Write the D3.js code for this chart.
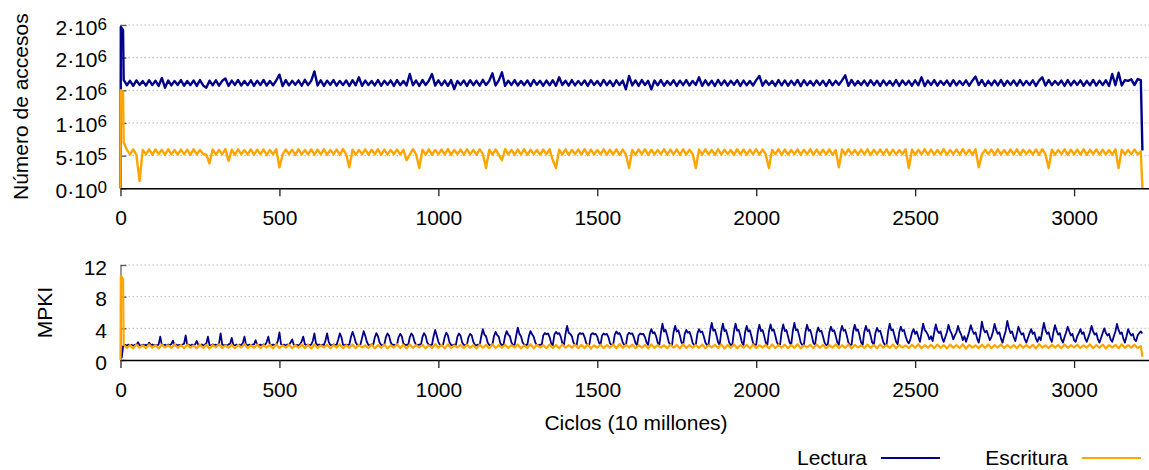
<!DOCTYPE html>
<html>
<head>
<meta charset="utf-8">
<script src="https://cdn.jsdelivr.net/npm/d3@7"></script>
<style>
  html, body { margin: 0; padding: 0; background: #fff; }
  svg { display: block; font-family: "Liberation Sans", Arial, Helvetica, sans-serif; }
</style>
</head>
<body>
<svg id="chart" width="1149" height="470"></svg>
<script>
// ---------------------------------------------------------------
// Datos (eje x en ciclos / 10 millones)
// ---------------------------------------------------------------
const ciclosInicio = [0, 1, 4, 8];     // primeras muestras, más densas
const CICLO_0 = 10;                    // primera muestra regular
const PASO = 10;                       // paso de las series regulares
const PASO_FINO = 5;                   // paso de la serie MPKI de lectura
const CICLO_FIN = 3215;                // última muestra

// Número de accesos (miles)
const lecturaAccInicio   = [0, 2470, 2450, 2420];
const escrituraAccInicio = [0, 1500, 1490, 1470];
const lecturaAcc = [
  1660,1578,1646,1569,1652,1583,1641,1572,1655,1580,1648,1566,1690,1540,1650,1575,1644,1582,1657,1570,
  1643,1579,1651,1568,1656,1574,1541,1648,1577,1653,1571,1645,1680,1567,1649,1582,1658,1573,1642,1576,
  1654,1569,1647,1581,1659,1572,1643,1578,1650,1740,1565,1656,1576,1645,1584,1652,1570,1660,1579,1646,
  1790,1574,1653,1567,1648,1583,1657,1571,1644,1580,1651,1566,1655,1577,1700,1569,1649,1582,1642,1575,
  1658,1570,1645,1584,1652,1568,1656,1579,1643,1573,1750,1577,1650,1566,1659,1581,1647,1750,1572,1654,
  1576,1649,1569,1657,1520,1644,1583,1651,1567,1655,1578,1646,1571,1660,1580,1642,1760,1574,1653,1775,
  1568,1648,1582,1656,1573,1643,1579,1652,1566,1658,1584,1645,1570,1650,1577,1654,1569,1700,1581,1647,
  1572,1657,1575,1644,1583,1651,1567,1655,1580,1642,1571,1659,1578,1646,1565,1653,1582,1649,1515,1720,
  1574,1652,1568,1658,1581,1645,1515,1650,1576,1656,1570,1643,1583,1654,1567,1648,1579,1657,1573,1644,
  1582,1700,1569,1653,1577,1647,1566,1659,1580,1651,1572,1645,1584,1655,1568,1649,1578,1642,1575,1656,
  1720,1571,1650,1583,1644,1567,1657,1576,1652,1570,1646,1581,1658,1565,1654,1579,1643,1573,1651,1580,
  1648,1566,1656,1577,1645,1584,1653,1730,1569,1659,1575,1642,1582,1650,1571,1655,1578,1647,1568,1652,
  1579,1644,1573,1658,1567,1651,1583,1646,1570,1654,1576,1700,1565,1649,1581,1657,1572,1643,1584,1650,
  1568,1655,1577,1642,1582,1653,1571,1648,1710,1580,1659,1566,1645,1578,1652,1574,1656,1569,1647,1583,
  1651,1570,1657,1576,1644,1581,1653,1567,1649,1700,1573,1658,1579,1643,1585,1650,1568,1656,1575,1646,
  1583,1652,1569,1645,1577,1659,1572,1648,1580,1654,1566,1750,1578,1770,1574,1657,1645,1668,1580,1672,
  1655
];
const escrituraAcc = [
  700,592,518,596,513,110,589,521,597,515,594,524,590,511,598,520,587,516,593,523,
  591,512,599,519,586,525,514,380,595,517,588,522,600,420,592,513,596,520,585,518,
  597,514,590,523,594,510,587,521,598,320,516,593,524,589,512,599,519,586,522,595,
  515,591,520,597,513,588,524,594,511,600,518,320,592,516,587,523,596,514,590,521,
  598,512,593,519,586,525,595,517,589,430,514,599,521,310,591,516,597,513,588,522,
  594,518,600,511,587,524,592,515,598,520,589,513,596,523,310,590,517,595,512,430,
  599,521,588,514,593,519,597,512,590,525,586,516,594,522,598,430,310,591,518,596,
  513,589,523,595,517,599,511,592,520,587,524,596,515,590,518,597,512,593,521,310,
  588,516,594,522,599,513,590,519,586,525,597,514,592,520,595,511,598,517,589,523,
  310,593,515,597,521,588,512,596,518,591,524,586,513,599,520,594,516,590,522,597,
  514,595,519,310,589,523,598,511,593,517,587,525,596,514,591,520,599,512,594,518,
  590,521,597,513,588,320,595,516,599,522,586,515,592,519,597,511,589,524,594,517,
  596,512,591,520,587,525,598,310,594,514,589,521,597,516,592,518,586,523,599,513,
  588,522,595,515,600,519,591,513,596,320,517,589,524,593,511,598,520,587,516,594,
  519,597,514,590,523,586,518,595,512,599,521,310,592,515,588,524,596,513,591,520,
  593,517,598,512,589,525,594,516,590,522,587,514,597,310,592,519,586,523,595,518,
  562
];
const lecturaAccFin = 580;
const escrituraAccFin = 0;

// MPKI
const lecturaMpkiInicio   = [0.2, 0.3, 0.3, 1.7];
const escrituraMpkiInicio = [0, 10.6, 10.5, 10.2];
const lecturaMpki = [   // paso fino (5)
  1.85,1.92,1.80,1.95,1.84,1.90,1.79,1.93,1.87,2.25,1.88,1.81,1.94,1.86,1.91,1.83,2.20,1.89,1.96,1.82,
  1.90,1.84,1.97,2.95,1.92,1.85,1.93,1.80,1.95,1.88,2.02,2.45,1.86,1.94,1.82,1.91,1.87,1.96,2.05,3.10,
  1.88,1.93,1.81,1.95,1.86,1.99,2.40,1.90,1.83,1.96,1.85,1.92,2.08,2.95,1.89,1.84,1.97,1.87,1.93,1.82,
  2.10,3.35,1.95,1.86,1.92,1.81,1.97,2.05,2.80,1.90,1.84,1.96,1.88,1.93,1.85,2.15,2.95,1.91,1.87,1.94,
  1.83,1.95,1.98,2.50,1.92,1.86,1.94,1.82,1.97,1.89,2.30,2.95,1.93,1.85,1.96,1.88,1.91,2.40,3.50,2.00,
  1.87,1.94,1.84,1.96,1.89,2.20,2.60,1.95,1.86,1.92,1.83,1.97,2.35,2.95,2.00,1.88,1.94,1.85,1.95,2.40,
  3.35,2.10,1.89,1.96,1.84,1.93,1.87,2.50,3.35,2.30,1.90,1.85,1.97,1.88,1.94,2.60,3.35,2.90,1.95,1.86,
  1.93,1.88,1.96,2.90,3.55,3.00,2.20,1.90,1.84,1.95,2.80,3.65,3.05,2.30,1.92,1.86,1.97,1.89,2.85,3.40,
  3.00,2.20,1.91,1.85,1.95,2.90,3.35,3.05,2.25,1.89,1.94,1.84,1.96,2.90,3.30,3.00,2.10,1.88,1.93,1.86,
  2.85,3.35,3.10,2.30,1.92,1.85,1.96,1.89,2.90,3.40,3.05,2.20,1.93,1.86,1.95,3.00,3.80,3.10,2.30,1.90,
  1.84,1.96,2.90,3.45,3.10,2.25,1.90,1.85,1.95,1.88,2.95,3.35,3.05,2.20,1.92,1.86,1.97,2.90,3.30,3.10,
  2.30,1.91,1.85,1.95,1.88,3.00,3.90,3.20,3.00,2.20,1.90,1.84,1.96,3.00,3.55,3.15,2.95,2.10,1.89,1.94,
  3.05,3.65,3.20,3.00,2.20,1.88,1.95,3.10,4.10,3.30,3.00,2.25,1.91,1.85,1.96,3.05,3.65,3.25,2.95,2.20,
  1.90,1.86,1.95,1.88,3.10,3.40,3.25,3.35,2.90,2.10,1.89,3.20,3.55,3.30,3.40,2.95,2.15,1.87,3.30,4.30,
  3.45,3.30,3.00,2.20,1.91,1.85,3.15,3.40,3.30,3.35,2.90,2.15,1.88,1.94,3.20,3.40,3.25,3.30,2.95,2.20,
  1.89,3.10,3.35,3.20,3.30,2.90,2.10,1.87,1.93,3.20,3.60,3.30,3.40,2.95,2.20,1.90,1.85,3.15,3.45,3.30,
  3.35,2.90,2.15,1.88,3.10,3.35,3.25,3.30,2.90,2.20,1.91,3.30,3.90,3.40,3.50,3.00,2.20,1.89,3.40,4.60,
  3.60,3.80,3.10,2.25,1.90,1.86,3.50,4.30,3.60,3.75,3.05,2.20,1.92,3.30,3.80,3.45,3.55,3.00,2.15,1.88,
  1.94,3.35,3.90,3.50,3.60,3.00,2.20,1.89,1.93,3.60,4.70,3.70,3.85,3.10,2.25,1.90,3.55,4.60,3.65,3.80,
  3.05,2.20,1.88,1.95,3.60,4.60,3.70,3.80,3.10,2.20,1.91,3.50,4.30,3.60,3.75,3.00,2.15,1.89,1.94,3.55,
  4.45,3.65,3.80,3.05,2.20,1.90,3.60,4.50,3.70,3.85,3.10,2.25,1.88,1.95,3.55,4.50,3.65,3.80,3.00,2.20,
  1.91,3.60,4.70,3.75,3.85,3.10,2.20,1.89,1.94,3.55,4.45,3.70,3.80,3.05,2.15,1.90,3.40,4.10,3.60,3.70,
  3.00,2.20,1.88,1.95,3.50,4.20,3.65,3.75,3.05,2.25,1.91,3.55,4.30,3.70,3.80,3.10,2.20,1.89,1.94,3.60,
  4.45,3.70,3.85,3.10,2.20,1.90,3.55,4.30,3.65,3.80,3.05,2.20,1.92,3.40,4.05,3.60,3.70,3.00,2.25,1.89,
  1.95,3.60,4.60,3.75,3.85,3.10,2.30,2.00,3.50,4.20,3.65,3.80,3.00,2.40,2.10,2.60,3.45,3.90,3.30,3.60,
  2.90,2.30,3.40,4.60,3.80,3.55,3.20,2.60,3.00,2.40,3.50,4.50,3.70,3.40,3.60,2.80,2.30,2.90,3.50,4.45,
  3.70,3.30,2.60,3.10,3.50,4.30,3.60,3.20,2.50,3.00,2.30,2.90,3.60,4.40,3.75,3.30,3.50,2.70,2.20,3.30,
  4.85,3.90,3.50,3.70,3.10,2.50,2.90,3.60,4.55,3.80,3.30,3.50,2.70,2.20,3.00,3.70,4.95,4.00,3.40,3.60,
  2.90,2.40,3.30,4.20,3.60,3.20,3.40,2.60,2.20,2.80,3.40,3.90,3.30,3.50,2.70,2.30,2.90,2.50,3.60,4.70,
  3.80,3.30,3.50,2.70,2.30,3.50,4.40,3.70,3.20,3.40,2.60,2.20,2.90,3.50,4.20,3.60,3.10,3.30,2.50,2.30,
  3.00,3.40,3.90,3.30,3.50,2.70,2.30,2.90,3.50,4.30,3.60,3.20,3.40,2.60,2.20,2.80,3.40,4.00,3.40,3.10,
  3.30,2.60,2.30,3.00,3.60,4.55,3.80,3.30,3.50,2.70,2.20,3.00,3.90,3.40,3.10,3.30,2.60,2.40,3.10,3.40,
  3.60,3.35
];
const escrituraMpki = [
  1.92,1.52,1.88,1.47,1.95,1.56,1.86,1.50,1.97,1.55,1.89,1.46,1.93,1.58,1.87,1.51,1.99,1.54,1.90,1.48,
  1.94,1.57,1.85,1.49,1.96,1.53,1.91,1.45,1.88,1.59,1.98,1.52,1.86,1.55,1.93,1.47,1.90,1.56,2.02,1.50,
  1.87,1.54,1.95,1.48,1.89,1.58,1.92,1.46,1.97,1.53,1.85,1.57,1.94,1.49,1.88,1.55,1.99,1.51,1.91,1.45,
  1.96,1.52,1.86,1.59,1.93,1.47,1.90,1.56,1.98,1.50,1.87,1.54,1.95,1.48,1.92,1.58,1.85,1.53,1.97,1.46,
  1.89,1.55,1.94,1.49,1.87,1.57,1.99,1.51,1.91,1.46,1.96,1.54,1.88,1.59,1.93,1.48,1.86,1.52,2.01,1.56,
  1.92,1.47,1.97,1.53,1.85,1.58,1.90,1.50,1.95,1.55,1.88,1.45,1.94,1.57,1.91,1.49,1.98,1.52,1.87,1.56,
  1.93,1.51,1.89,1.57,1.96,1.46,1.86,1.54,1.99,1.48,1.92,1.58,1.87,1.50,1.95,1.53,1.90,1.47,1.97,1.55,
  1.88,1.56,1.94,1.49,1.91,1.52,1.98,1.45,1.86,1.57,1.93,1.51,1.89,1.55,1.96,1.48,2.03,1.54,1.90,1.59,
  1.95,1.50,1.87,1.55,1.92,1.47,1.97,1.53,1.89,1.58,1.85,1.49,1.94,1.56,1.91,1.46,1.99,1.52,1.88,1.57,
  1.90,1.54,1.96,1.48,1.86,1.59,1.93,1.51,1.98,1.45,1.89,1.55,1.95,1.50,1.87,1.57,1.92,1.47,1.97,1.53,
  1.86,1.58,1.91,1.46,1.97,1.52,1.88,1.56,1.94,1.49,1.90,1.54,1.99,1.47,1.85,1.59,1.93,1.51,1.96,1.55,
  1.92,1.48,1.89,1.57,1.95,1.50,1.87,1.53,1.98,1.46,1.91,1.58,1.86,1.52,1.94,1.55,1.90,1.49,1.97,1.56,
  1.88,1.53,1.96,1.47,1.90,1.59,1.85,1.51,1.93,1.55,1.99,1.48,1.87,1.57,1.92,1.50,1.95,1.54,1.89,1.46,
  1.94,1.56,1.87,1.52,1.98,1.45,1.91,1.58,1.86,1.50,1.93,1.54,1.97,1.49,1.88,1.57,1.95,1.51,1.90,1.55,
  1.89,1.47,1.95,1.55,1.87,1.53,1.92,1.46,1.99,1.58,1.86,1.51,1.94,1.56,1.90,1.48,1.96,1.54,1.88,1.59,
  1.93,1.52,1.86,1.57,1.97,1.49,1.90,1.55,1.95,1.46,1.88,1.58,1.92,1.50,1.98,1.53,1.87,1.56,1.94,1.51,
  1.76
];
const escrituraMpkiFin = 0.4;

// Ejes y etiquetas
const xTicks = [0, 500, 1000, 1500, 2000, 2500, 3000];
const accTicks = [0, 500, 1000, 1500, 2000, 2500];            // miles
const accTickMantisa  = ["0", "5", "1", "2", "2", "2"];
const accTickExponente = ["0", "5", "6", "6", "6", "6"];
const mpkiTicks = [0, 4, 8, 12];
const series = ["Lectura", "Escritura"];
const colores = ["#00008b", "#ffa500"];

// ---------------------------------------------------------------
// Construcción de los puntos de cada serie
// ---------------------------------------------------------------
function puntos(inicio, valores, paso, fin) {
  const p = inicio.map((v, i) => [ciclosInicio[i], v]);
  valores.forEach((v, i) => p.push([CICLO_0 + i * paso, v]));
  if (fin !== undefined) p.push([CICLO_FIN, fin]);
  return p;
}

const acc = [
  puntos(lecturaAccInicio, lecturaAcc, PASO, lecturaAccFin),
  puntos(escrituraAccInicio, escrituraAcc, PASO, escrituraAccFin)
];
const mpki = [
  puntos(lecturaMpkiInicio, lecturaMpki, PASO_FINO),
  puntos(escrituraMpkiInicio, escrituraMpki, PASO, escrituraMpkiFin)
];

// ---------------------------------------------------------------
// Dibujo
// ---------------------------------------------------------------
const svg = d3.select("#chart");
const FS = 21;
const x = d3.scaleLinear().domain([0, 3242]).range([120.5, 1151]);

function panel(yScale, ticks, datos, grosores, labelFn, ylabel, ylabelX) {
  const [y0, y1] = yScale.range();
  const g = svg.append("g");

  // rejilla punteada
  g.selectAll("line.grid").data(ticks.filter(t => t !== 0)).join("line")
    .attr("x1", x.range()[0]).attr("x2", x.range()[1])
    .attr("y1", d => yScale(d)).attr("y2", d => yScale(d))
    .attr("stroke", "#b8b8b8").attr("stroke-width", 1)
    .attr("stroke-dasharray", "1.5,2.5");

  // eje y (marcas hacia dentro)
  const ay = g.append("g").attr("transform", `translate(${x.range()[0]},0)`)
    .call(d3.axisLeft(yScale).tickValues(ticks).tickSize(-6).tickSizeOuter(0).tickFormat(""));
  ay.select(".domain").attr("stroke", "#777").attr("stroke-width", 1.5);
  ay.selectAll(".tick line").attr("stroke", "#555").attr("stroke-width", 1.3);

  // series
  const line = d3.line().x(d => x(d[0])).y(d => yScale(d[1]));
  datos.forEach((d, i) => {
    g.append("path").datum(d)
      .attr("fill", "none").attr("stroke", colores[i])
      .attr("stroke-width", grosores[i]).attr("stroke-linejoin", "round")
      .attr("d", line);
  });

  // eje x
  const ax = g.append("g").attr("transform", `translate(0,${y0})`)
    .call(d3.axisBottom(x).tickValues(xTicks).tickSize(8).tickSizeOuter(0).tickFormat(d3.format("d")));
  ax.select(".domain").attr("stroke", "#000").attr("stroke-width", 1.6);
  ax.selectAll(".tick line").attr("stroke", "#222").attr("stroke-width", 1.3);
  ax.selectAll(".tick text").attr("dy", null).attr("y", 36.5)
    .attr("font-size", FS).attr("fill", "#000")
    .attr("font-family", '"Liberation Sans", Arial, sans-serif');

  // etiquetas del eje y
  ticks.forEach((t, i) => {
    const txt = g.append("text").attr("x", 107).attr("y", yScale(t) + 9.5)
      .attr("text-anchor", "end").attr("font-size", FS).attr("fill", "#000");
    labelFn(txt, i, t);
  });

  // título del eje y
  const cy = (y0 + y1) / 2;
  g.append("text").attr("transform", `translate(${ylabelX},${cy}) rotate(-90)`)
    .attr("text-anchor", "middle").attr("font-size", FS).attr("fill", "#000")
    .text(ylabel);
}

const yAcc = d3.scaleLinear().domain([0, 2500]).range([188.3, 25]);
panel(yAcc, accTicks, acc, [2.4, 2.4], (txt, i) => {
  txt.append("tspan").text(accTickMantisa[i] + "·10");
  txt.append("tspan").attr("dy", -5).attr("font-size", 17).text(accTickExponente[i]);
}, "Número de accesos", 28);

const yMpki = d3.scaleLinear().domain([0, 12]).range([360, 265]);
panel(yMpki, mpkiTicks, mpki, [1.8, 2.2], (txt, i, t) => txt.text(t), "MPKI", 52);

// título del eje x
svg.append("text").attr("x", 636).attr("y", 430)
  .attr("text-anchor", "middle").attr("font-size", FS).attr("fill", "#000")
  .text("Ciclos (10 millones)");

// leyenda
const leyenda = [
  { textoX: 867, x1: 881, x2: 940 },
  { textoX: 1068, x1: 1082, x2: 1141 }
];
leyenda.forEach((l, i) => {
  svg.append("text").attr("x", l.textoX).attr("y", 465)
    .attr("text-anchor", "end").attr("font-size", FS).attr("fill", "#000")
    .text(series[i]);
  svg.append("line").attr("x1", l.x1).attr("x2", l.x2).attr("y1", 458).attr("y2", 458)
    .attr("stroke", colores[i]).attr("stroke-width", 1.8);
});
</script>
</body>
</html>
